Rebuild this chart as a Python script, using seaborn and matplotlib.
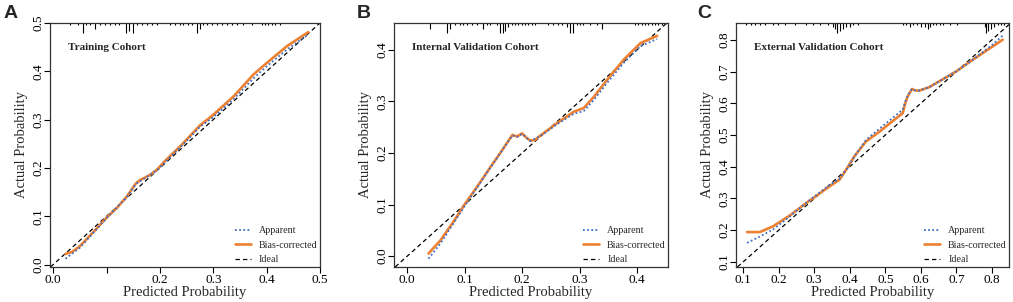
import numpy as np
import pandas as pd
import matplotlib
matplotlib.use("Agg")
import matplotlib.pyplot as plt
import seaborn as sns
from matplotlib.lines import Line2D

# ----------------------------------------------------------------------------
# data
# ----------------------------------------------------------------------------
# A - training cohort
a_bc_x = [0.023, 0.035, 0.05, 0.075, 0.1, 0.12, 0.138, 0.148, 0.155, 0.163, 0.172, 0.182,
          0.195, 0.21, 0.24, 0.275, 0.3, 0.338, 0.375, 0.4, 0.438, 0.478]
a_bc_y = [0.022, 0.026, 0.038, 0.067, 0.097, 0.118, 0.141, 0.157, 0.168, 0.175, 0.18, 0.186,
          0.197, 0.215, 0.247, 0.288, 0.31, 0.348, 0.393, 0.417, 0.452, 0.481]
a_app_x = [0.023, 0.05, 0.1, 0.138, 0.155, 0.172, 0.195, 0.24, 0.275, 0.3, 0.338, 0.375,
           0.4, 0.438, 0.478]
a_app_y = [0.012, 0.035, 0.096, 0.14, 0.167, 0.179, 0.196, 0.245, 0.285, 0.305, 0.342, 0.385,
           0.41, 0.445, 0.476]
a_rug_x = [0.032, 0.047, 0.056, 0.062, 0.069, 0.079, 0.088, 0.097, 0.107, 0.116, 0.124, 0.137,
           0.142, 0.15, 0.157, 0.167, 0.176, 0.185, 0.195, 0.219, 0.228, 0.238, 0.243, 0.253,
           0.26, 0.27, 0.275, 0.281, 0.288, 0.298, 0.307, 0.316, 0.326, 0.335, 0.345, 0.356,
           0.373, 0.391, 0.397, 0.403, 0.41, 0.416, 0.425]
a_rug_n = [1, 1, 5, 1, 1, 3, 1, 1, 1, 1, 1, 5,
           4, 5, 1, 1, 1, 1, 1, 1, 1, 1, 1, 1,
           1, 5, 3, 1, 1, 1, 1, 1, 1, 1, 1, 1,
           1, 1, 1, 1, 1, 1, 1]

# B - internal validation cohort
b_bc_x = [0.037, 0.058, 0.08, 0.101, 0.125, 0.145, 0.165, 0.183, 0.191, 0.2, 0.207, 0.214,
          0.222, 0.232, 0.261, 0.29, 0.307, 0.325, 0.348, 0.377, 0.406, 0.435]
b_bc_y = [0.005, 0.031, 0.066, 0.102, 0.14, 0.173, 0.205, 0.235, 0.232, 0.238, 0.23, 0.224,
          0.225, 0.234, 0.258, 0.28, 0.287, 0.309, 0.342, 0.381, 0.413, 0.427]
b_app_x = [0.037, 0.058, 0.101, 0.145, 0.183, 0.191, 0.2, 0.214, 0.232, 0.261, 0.29, 0.307,
           0.325, 0.348, 0.377, 0.406, 0.435]
b_app_y = [-0.005, 0.025, 0.099, 0.172, 0.234, 0.231, 0.237, 0.223, 0.233, 0.256, 0.276, 0.281,
           0.303, 0.336, 0.375, 0.407, 0.421]
b_rug_x = [0.04, 0.07, 0.075, 0.083, 0.092, 0.097, 0.104, 0.113, 0.122, 0.132, 0.139, 0.144,
           0.157, 0.162, 0.167, 0.17, 0.176, 0.183, 0.188, 0.193, 0.2, 0.205, 0.21, 0.217,
           0.223, 0.245, 0.254, 0.263, 0.27, 0.278, 0.283, 0.289, 0.296, 0.301, 0.306, 0.318,
           0.33, 0.339, 0.397, 0.402, 0.409, 0.414, 0.419, 0.426, 0.431, 0.437, 0.443]
b_rug_n = [3, 5, 3, 1, 1, 1, 1, 1, 1, 3, 1, 1,
           1, 5, 5, 4, 2, 1, 1, 1, 1, 1, 1, 1,
           1, 1, 1, 1, 1, 2, 5, 5, 1, 1, 1, 1,
           1, 3, 1, 1, 1, 1, 1, 1, 1, 1, 1]

# C - external validation cohort
c_bc_x = [0.111, 0.147, 0.184, 0.231, 0.278, 0.343, 0.371, 0.39, 0.413, 0.446, 0.484, 0.549,
          0.556, 0.563, 0.575, 0.585, 0.596, 0.624, 0.699, 0.746, 0.802, 0.83]
c_bc_y = [0.194, 0.194, 0.212, 0.246, 0.286, 0.338, 0.359, 0.391, 0.433, 0.48, 0.511, 0.569,
          0.6, 0.622, 0.645, 0.64, 0.64, 0.651, 0.7, 0.737, 0.779, 0.8]
c_app_x = [0.111, 0.147, 0.184, 0.231, 0.278, 0.343, 0.371, 0.39, 0.413, 0.446, 0.502, 0.549,
           0.556, 0.563, 0.575, 0.585, 0.596, 0.624, 0.699, 0.746, 0.802, 0.83]
c_app_y = [0.16, 0.18, 0.202, 0.243, 0.287, 0.342, 0.362, 0.39, 0.432, 0.485, 0.537, 0.58,
           0.605, 0.625, 0.645, 0.64, 0.64, 0.651, 0.7, 0.737, 0.785, 0.813]
c_rug_x = [0.108, 0.122, 0.134, 0.148, 0.162, 0.184, 0.198, 0.218, 0.246, 0.277, 0.297, 0.316,
           0.339, 0.353, 0.358, 0.364, 0.372, 0.381, 0.389, 0.4, 0.409, 0.423, 0.549, 0.558,
           0.569, 0.578, 0.589, 0.6, 0.611, 0.62, 0.625, 0.634, 0.642, 0.653, 0.662, 0.681,
           0.701, 0.78, 0.783, 0.788, 0.797, 0.805, 0.816, 0.825, 0.833]
c_rug_n = [1, 1, 1, 1, 1, 1, 1, 1, 1, 1, 1, 1,
           1, 2, 3, 5, 4, 3, 2, 2, 1, 1, 1, 1,
           2, 1, 1, 2, 2, 3, 2, 1, 1, 1, 1, 1,
           1, 2, 5, 4, 3, 2, 1, 1, 1]

panels = [
    dict(tag="A", title="Training Cohort", bc=(a_bc_x, a_bc_y), app=(a_app_x, a_app_y),
         rug=(a_rug_x, a_rug_n), lim=(-0.006, 0.5), ylim=(-0.005, 0.5),
         ticks=[0.0, 0.1, 0.2, 0.3, 0.4, 0.5],
         xlabels=["0.0", "", "0.2", "0.3", "0.4", "0.5"],
         ylabels=["0.0", "0.1", "0.2", "0.3", "0.4", "0.5"],
         pos=[0.0494, 0.116, 0.2665, 0.808], tagx=0.003),
    dict(tag="B", title="Internal Validation Cohort", bc=(b_bc_x, b_bc_y), app=(b_app_x, b_app_y),
         rug=(b_rug_x, b_rug_n), lim=(-0.023, 0.454), ylim=(-0.021, 0.452),
         ticks=[0.0, 0.1, 0.2, 0.3, 0.4],
         xlabels=["0.0", "0.1", "0.2", "0.3", "0.4"],
         ylabels=["0.0", "0.1", "0.2", "0.3", "0.4"],
         pos=[0.389, 0.116, 0.2705, 0.808], tagx=0.352),
    dict(tag="C", title="External Validation Cohort", bc=(c_bc_x, c_bc_y), app=(c_app_x, c_app_y),
         rug=(c_rug_x, c_rug_n), lim=(0.08, 0.848), ylim=(0.084, 0.853),
         ticks=[0.1, 0.2, 0.3, 0.4, 0.5, 0.6, 0.7, 0.8],
         xlabels=["0.1", "0.2", "0.3", "0.4", "0.5", "0.6", "0.7", "0.8"],
         ylabels=["0.1", "0.2", "0.3", "0.4", "0.5", "0.6", "0.7", "0.8"],
         pos=[0.7266, 0.116, 0.2695, 0.808], tagx=0.688),
]

# ----------------------------------------------------------------------------
# style
# ----------------------------------------------------------------------------
sns.set_theme(style="ticks")
plt.rcParams["font.family"] = ["Liberation Serif", "DejaVu Serif"]

BLUE = "#3f6fc6"
ORANGE = "#ee8131"

fig = plt.figure(figsize=(10.13, 3.02), dpi=100, facecolor="white")

for p in panels:
    ax = fig.add_axes(p["pos"])

    # ideal diagonal
    ax.axline((0.3, 0.3), slope=1, color="black", lw=0.9, ls=(0, (3.5, 2.5)), zorder=1)

    app = pd.DataFrame({"x": p["app"][0], "y": p["app"][1]})
    bc = pd.DataFrame({"x": p["bc"][0], "y": p["bc"][1]})
    sns.lineplot(data=bc, x="x", y="y", ax=ax, color=ORANGE, lw=1.9,
                 sort=False, estimator=None, zorder=2)
    sns.lineplot(data=app, x="x", y="y", ax=ax, color=BLUE, lw=1.3,
                 ls=(0, (1, 1.3)), sort=False, estimator=None, zorder=3)

    # histogram spikes along the top
    rx, rn = p["rug"]
    ax.vlines(rx, 1 - np.array(rn) * 0.0085, 1, transform=ax.get_xaxis_transform(),
              color="black", lw=0.8, clip_on=False)

    ax.set_xlim(p["lim"])
    ax.set_ylim(p["ylim"])
    ax.set_xticks(p["ticks"])
    ax.set_xticklabels(p["xlabels"], fontsize=9.5)
    ax.set_yticks(p["ticks"])
    ax.set_yticklabels(p["ylabels"], fontsize=9.5, rotation=90, va="center")
    ax.tick_params(direction="out", length=4, width=0.8, pad=1, colors="black")
    ax.tick_params(axis="y", pad=0)

    for side in ["top", "right", "bottom", "left"]:
        ax.spines[side].set_visible(True)
        ax.spines[side].set_color("#333333")
        ax.spines[side].set_linewidth(0.9)

    ax.set_xlabel("Predicted Probability", fontsize=10.5, labelpad=0)
    ax.set_ylabel("Actual Probability", fontsize=10.5, labelpad=3)

    ax.text(0.067, 0.9, p["title"], transform=ax.transAxes, fontsize=8,
            fontweight="bold", va="center", ha="left")

    handles = [
        Line2D([], [], color=BLUE, lw=1.3, ls=(0, (1, 1.3))),
        Line2D([], [], color=ORANGE, lw=1.9),
        Line2D([], [], color="black", lw=0.9, ls=(0, (3.5, 2.5))),
    ]
    ax.legend(handles, ["Apparent", "Bias-corrected", "Ideal"], loc="lower right",
              bbox_to_anchor=(1.025, -0.025), frameon=False, fontsize=7.2,
              handlelength=1.6, handletextpad=0.8, labelspacing=0.55)

    fig.text(p["tagx"], 0.985, p["tag"], fontsize=14, fontweight="bold",
             family="Liberation Sans", va="top", ha="left")

fig.savefig("out.png", dpi=100, facecolor="white")
